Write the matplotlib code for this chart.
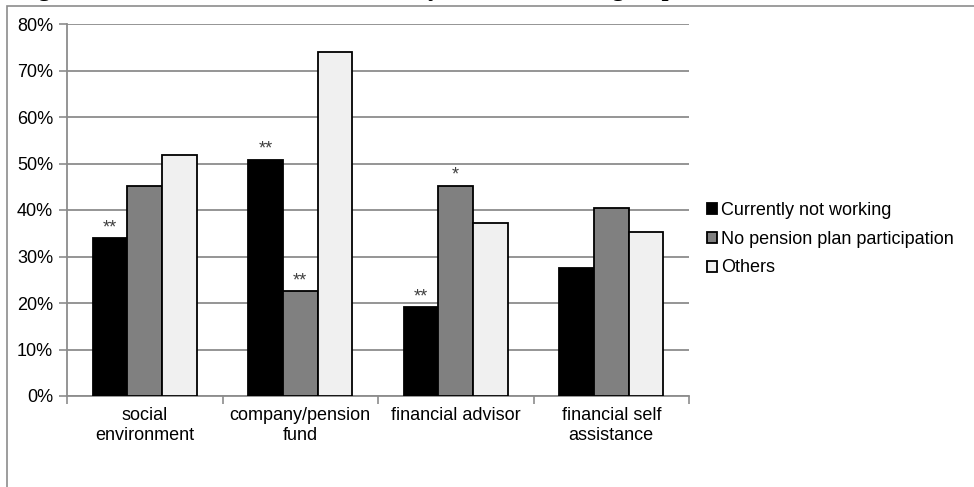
import matplotlib
matplotlib.use("Agg")
import matplotlib.pyplot as plt
import numpy as np
from matplotlib.patches import Rectangle

plt.rcParams["font.family"] = ["Liberation Sans", "DejaVu Sans"]

# ── data ───────────────────────────────────────────────────────────────
categories = ["social\nenvironment", "company/pension\nfund",
              "financial advisor", "financial self\nassistance"]
series = ["Currently not working", "No pension plan participation", "Others"]
not_working = [34.0, 50.8, 19.1, 27.6]
no_pension  = [45.1, 22.6, 45.2, 40.5]
others      = [51.9, 74.0, 37.3, 35.3]
# significance markers shown above bars
stars_not_working = ["**", "**", "**", ""]
stars_no_pension  = ["", "**", "*", ""]

colors = ["#000000", "#808080", "#f0f0f0"]
grid_col = "#8c8c8c"

W, H = 974, 487
fig = plt.figure(figsize=(W / 100, H / 100), dpi=100)

# outer frame (top/left edges only visible)
fig.patches.append(Rectangle((7 / W, -0.1), 1.2, (H - 6) / H + 0.1,
                             transform=fig.transFigure, fill=False,
                             edgecolor=grid_col, linewidth=1.2))

# caption line sitting above the frame, mostly outside the canvas
fig.text(16 / W, 1 + 4 / H, "Figure 3: Source of information used by two vulnerable groups",
         family="Liberation Serif", weight="bold", fontsize=18, va="baseline", ha="left")

ax = fig.add_axes([67 / W, (H - 396) / H, (689 - 67) / W, (396 - 24) / H])

x = np.arange(len(categories))
bw = 0.222
for vals, off, col, name in zip([not_working, no_pension, others], [-bw, 0, bw], colors, series):
    ax.bar(x + off, vals, bw, color=col, edgecolor="black", linewidth=1.3,
           label=name, zorder=3)

for vals, off, marks in [(not_working, -bw, stars_not_working), (no_pension, 0, stars_no_pension)]:
    for xi, v, m in zip(x, vals, marks):
        if m:
            ax.text(xi + off, v + 0.4, m, ha="center", va="bottom",
                    fontsize=13, color="#404040", zorder=4)

ax.set_xlim(-0.5, len(categories) - 0.5)
ax.set_ylim(0, 80)
ax.set_yticks(np.arange(0, 81, 10))
ax.set_yticklabels([f"{v}%" for v in range(0, 81, 10)])
ax.yaxis.grid(True, color=grid_col, linewidth=1.3, zorder=0)

ax.set_xticks(np.arange(-0.5, len(categories), 1.0))
ax.set_xticklabels([])
ax.set_xticks(x, minor=True)
ax.set_xticklabels(categories, minor=True, fontsize=13, linespacing=1.25)
ax.tick_params(axis="x", which="minor", length=0, pad=8)
ax.tick_params(axis="x", which="major", length=6, color=grid_col, width=1.2)
ax.tick_params(axis="y", length=6, color=grid_col, width=1.2, labelsize=13, pad=4)

for s in ["top", "right"]:
    ax.spines[s].set_visible(False)
for s in ["left", "bottom"]:
    ax.spines[s].set_color(grid_col)
    ax.spines[s].set_linewidth(1.3)

fig.legend(loc="upper left", bbox_to_anchor=(698 / W, 1 - 193 / H),
           frameon=False, fontsize=13, handlelength=0.55, handleheight=0.55,
           handletextpad=0.25, labelspacing=0.65, borderpad=0)

fig.savefig("out.png", dpi=100)
